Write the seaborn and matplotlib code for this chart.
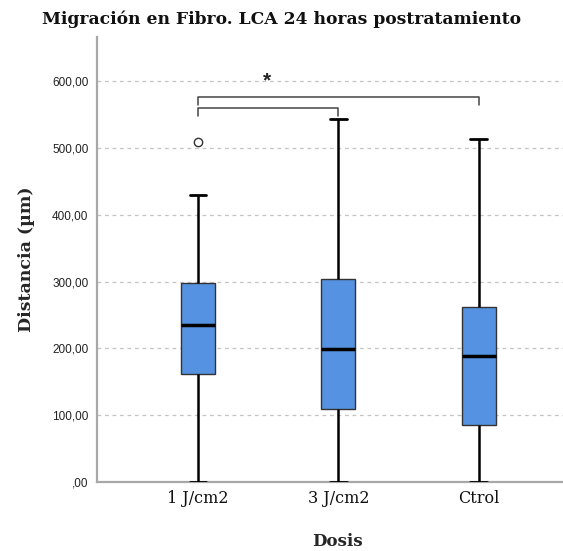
import numpy as np
import pandas as pd
import seaborn as sns
import matplotlib.pyplot as plt

# data (quartiles / whiskers / outlier per group)
groups = ["1 J/cm2", "3 J/cm2", "Ctrol"]
dist_1j = [0, 90, 162, 200, 235, 265, 298, 430, 509]
dist_3j = [0, 109, 199, 304, 543]
dist_ctrol = [0, 85, 189, 262, 513]

yticks = [0, 100, 200, 300, 400, 500, 600]
ytick_labels = [",00", "100,00", "200,00", "300,00", "400,00", "500,00", "600,00"]

# significance brackets: (from, to, height)
brackets = [("1 J/cm2", "Ctrol", 576), ("1 J/cm2", "3 J/cm2", 560)]
star_y = 600

box_color = "#5592e2"
serif = "DejaVu Serif"

df = pd.DataFrame({
	"Dosis": [groups[0]] * len(dist_1j) + [groups[1]] * len(dist_3j) + [groups[2]] * len(dist_ctrol),
	"Distancia": dist_1j + dist_3j + dist_ctrol,
})

sns.set_theme(style="white")
plt.rcParams['font.family'] = ['Liberation Sans', 'DejaVu Sans']

fig = plt.figure(figsize=(5.63, 5.51), dpi=100)
ax = fig.add_axes([0.172, 0.125, 0.828, 0.808])

sns.boxplot(data=df, x="Dosis", y="Distancia", order=groups, ax=ax,
	color=box_color, width=0.24, whis=1.5, saturation=1,
	linewidth=1.0, linecolor="#333333",
	whiskerprops=dict(color="black", linewidth=1.8),
	capprops=dict(color="black", linewidth=2),
	medianprops=dict(color="black", linewidth=2.5),
	boxprops=dict(edgecolor="#333333", linewidth=1),
	flierprops=dict(marker="o", markersize=6, markerfacecolor="white",
		markeredgecolor="#333333", markeredgewidth=1),
	zorder=3)

ax.set_xlim(-0.72, 2.6)
ax.set_ylim(0, 666)
ax.set_yticks(yticks)
ax.set_yticklabels(ytick_labels, fontsize=8.5, color="#222222")
ax.yaxis.grid(True, linestyle=(0, (3, 3)), color="#c4c4c4", linewidth=0.9, zorder=0)
ax.set_axisbelow(True)
ax.tick_params(axis="both", length=0, pad=6)

for lbl in ax.get_xticklabels():
	lbl.set_family(serif)
	lbl.set_fontsize(11.5)
	lbl.set_color("#111111")

for s in ["top", "right"]:
	ax.spines[s].set_visible(False)
for s in ["left", "bottom"]:
	ax.spines[s].set_color("#a8a8a8")
	ax.spines[s].set_linewidth(1.6)

ax.set_xlabel("Dosis", family=serif, fontsize=12, fontweight="bold", labelpad=16)
ax.xaxis.set_label_coords(0.517, -0.115)
ax.set_ylabel("Distancia (µm)", family=serif, fontsize=12.5, fontweight="bold", labelpad=12)
fig.text(0.5, 0.965, "Migración en Fibro. LCA 24 horas postratamiento", family=serif,
	fontsize=12.3, fontweight="bold", ha="center", va="center", color="#111111")

# significance brackets
for a, b, h in brackets:
	x1, x2 = groups.index(a), groups.index(b)
	ax.plot([x1, x1, x2, x2], [h - 12, h, h, h - 12], color="#444444", linewidth=1.1, zorder=4)
ax.text(0.49, star_y, "*", ha="center", va="center", fontsize=15, fontweight="bold", color="#222222")

fig.savefig("out.png", dpi=100)
